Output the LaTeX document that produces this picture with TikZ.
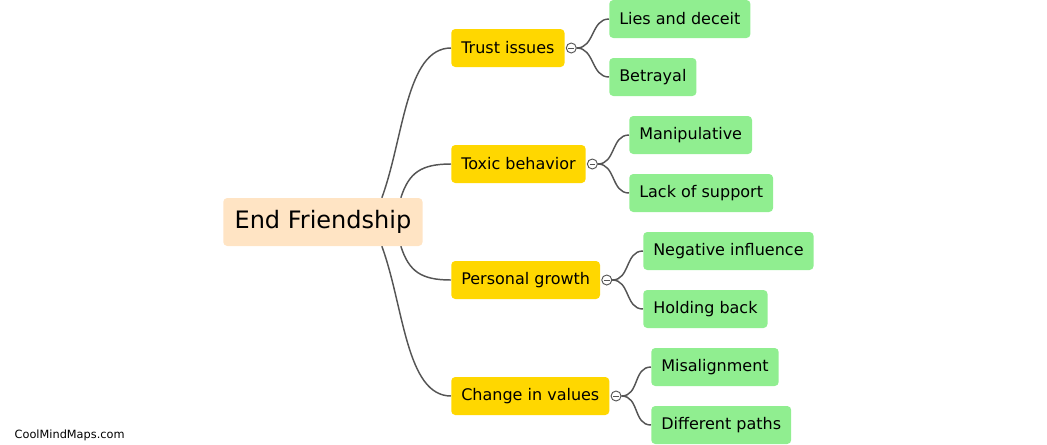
\documentclass[tikz,border=0pt]{standalone}
\usepackage{fontspec}
\setmainfont{DejaVu Sans}
\usetikzlibrary{calc,positioning}
\definecolor{CMRoot}{HTML}{FFE4C4}
\definecolor{CMGold}{HTML}{FFD700}
\definecolor{CMGreen}{HTML}{90EE90}
\definecolor{CMLine}{HTML}{555555}
\tikzset{
  rootbox/.style={fill=CMRoot, rounded corners=3pt, minimum height=36pt, inner xsep=8.5pt, anchor=west, font=\fontsize{18}{20}\selectfont},
  topicbox/.style={fill=CMGold, rounded corners=3pt, minimum height=28.5pt, inner xsep=7.5pt, anchor=west, font=\fontsize{12}{14}\selectfont},
  leafbox/.style={fill=CMGreen, rounded corners=3pt, minimum height=28.5pt, inner xsep=7.5pt, anchor=west, font=\fontsize{12}{14}\selectfont},
  link/.style={draw=CMLine, line width=1.1pt},
  fold/.style={circle, draw=CMLine, fill=white, line width=0.7pt, inner sep=0pt, minimum size=7.5pt,
    path picture={\draw[CMLine, line width=0.7pt] ([xshift=1.6pt]path picture bounding box.west) -- ([xshift=-1.6pt]path picture bounding box.east);}},
}
\begin{document}
\begin{tikzpicture}[x=0.75pt,y=-0.75pt]
\path[use as bounding box] (0,0) rectangle (1047,444);
% root and main topics
\node[rootbox] (root) at (223,222) {End Friendship};
\node[topicbox] (t1) at (451,48) {Trust issues};
\node[topicbox] (t2) at (451,164) {Toxic behavior};
\node[topicbox] (t3) at (451,280) {Personal growth};
\node[topicbox] (t4) at (451,396) {Change in values};
\node[fold, right=0.75pt of t1] (f1) {};
\node[fold, right=0.75pt of t2] (f2) {};
\node[fold, right=0.75pt of t3] (f3) {};
\node[fold, right=0.75pt of t4] (f4) {};
% leaves
\node[leafbox] (l1) at (609,19) {Lies and deceit};
\node[leafbox] (l2) at (609,77) {Betrayal};
\node[leafbox] (l3) at (629,135) {Manipulative};
\node[leafbox] (l4) at (629,193) {Lack of support};
\node[leafbox] (l5) at (643,251) {Negative influence};
\node[leafbox] (l6) at (643,309) {Holding back};
\node[leafbox] (l7) at (651,367) {Misalignment};
\node[leafbox] (l8) at (651,425) {Different paths};
% connectors
\draw[link] ($(root.north east)+(-41,0)$) .. controls +(22,-60) and +(-45,0) .. (t1.west);
\draw[link] ($(root.north east)+(-22,0)$) .. controls +(8,-25) and +(-30,0) .. (t2.west);
\draw[link] ($(root.south east)+(-22,0)$) .. controls +(8,25) and +(-30,0) .. (t3.west);
\draw[link] ($(root.south east)+(-41,0)$) .. controls +(22,60) and +(-45,0) .. (t4.west);
\draw[link] (f1.east) .. controls +(18,0) and +(-18,0) .. (l1.west);
\draw[link] (f1.east) .. controls +(18,0) and +(-18,0) .. (l2.west);
\draw[link] (f2.east) .. controls +(18,0) and +(-18,0) .. (l3.west);
\draw[link] (f2.east) .. controls +(18,0) and +(-18,0) .. (l4.west);
\draw[link] (f3.east) .. controls +(18,0) and +(-18,0) .. (l5.west);
\draw[link] (f3.east) .. controls +(18,0) and +(-18,0) .. (l6.west);
\draw[link] (f4.east) .. controls +(18,0) and +(-18,0) .. (l7.west);
\draw[link] (f4.east) .. controls +(18,0) and +(-18,0) .. (l8.west);
\node[anchor=west, font=\fontsize{8.5}{10}\selectfont] (mark) at (10,435) {CoolMindMaps.com};
\end{tikzpicture}
\end{document}
